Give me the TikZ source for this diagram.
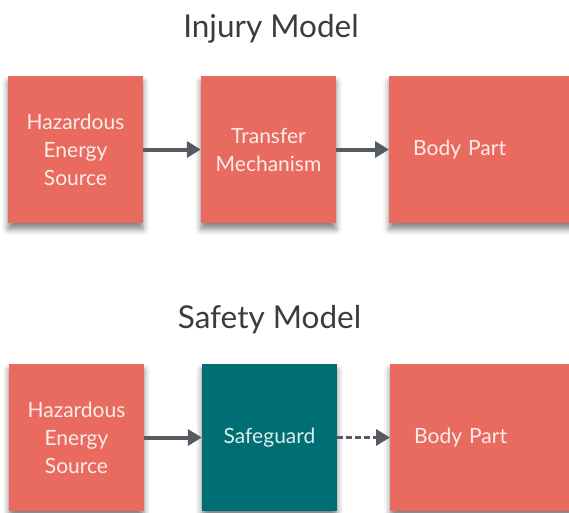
\documentclass[tikz,border=0pt]{standalone}
\usepackage{fontspec}
\setmainfont{Lato}
\usetikzlibrary{arrows.meta,shadows.blur}

\definecolor{salmon}{HTML}{E96A5F}
\definecolor{guardteal}{HTML}{006F73}
\definecolor{blocktext}{HTML}{FDEDEA}
\definecolor{guardtext}{HTML}{DCEDED}
\definecolor{arrowgray}{HTML}{555B61}
\definecolor{titlegray}{HTML}{3C3C3C}

\tikzset{
  block/.style={rectangle, fill=salmon, text=blocktext, inner sep=0pt,
    minimum width=135pt, minimum height=147pt, align=center,
    font=\fontsize{21}{28}\selectfont,
    blur shadow={shadow xshift=0pt, shadow yshift=-6pt,
      shadow blur radius=6pt, shadow opacity=50}},
  guard/.style={block, fill=guardteal, text=guardtext},
  endblock/.style={block, anchor=west, align=left, inner xsep=24pt,
    text width=150pt},
  flow/.style={-{Triangle[length=14pt,width=16pt]}, line width=4pt,
    draw=arrowgray},
  title/.style={anchor=base, text=titlegray,
    font=\fontsize{31.5}{36}\selectfont},
}

\begin{document}
\begin{tikzpicture}[x=1pt, y=-1pt]
  \useasboundingbox (0,0) rectangle (569,512);
  \clip (0,0) rectangle (569,512);

  % Injury model
  \node[title] (injury) at (271,37) {Injury Model};
  \node[block] (haz1) at (75.5,149.5) {Hazardous\\Energy\\Source};
  \node[block] (transfer) at (268.5,149.5) {Transfer\\Mechanism};
  \node[endblock] (body1) at (389,149.5) {Body Part};
  \draw[flow] (haz1) -- (transfer);
  \draw[flow] (transfer) -- (body1);

  % Safety model
  \node[title] (safety) at (269.5,328) {Safety Model};
  \node[block] (haz2) at (76.5,437.5) {Hazardous\\Energy\\Source};
  \node[guard] (safeguard) at (269.5,437.5) {Safeguard};
  \node[endblock] (body2) at (390,437.5) {Body Part};
  \draw[flow] (haz2) -- (safeguard);
  \draw[flow, dash pattern=on 6pt off 3pt, line width=3.5pt]
    (safeguard) -- (body2);
\end{tikzpicture}
\end{document}
